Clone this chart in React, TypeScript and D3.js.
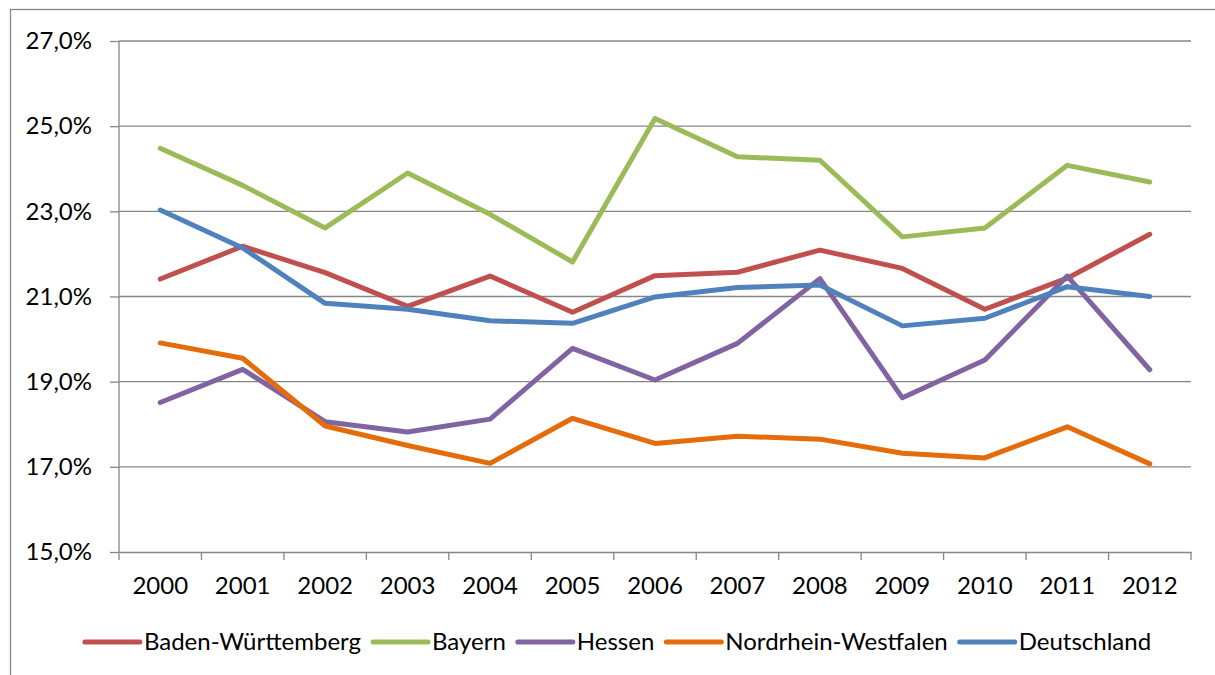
import React, {useEffect, useRef} from 'react'
import * as d3 from 'd3'

const years = ["2000", "2001", "2002", "2003", "2004", "2005", "2006", "2007", "2008", "2009", "2010", "2011", "2012"];

const badenWuerttemberg = [21.41, 22.18, 21.56, 20.77, 21.48, 20.63, 21.49, 21.57, 22.09, 21.66, 20.70, 21.43, 22.46];
const bayern = [24.48, 23.61, 22.61, 23.90, 22.93, 21.81, 25.18, 24.28, 24.20, 22.40, 22.61, 24.08, 23.69];
const hessen = [18.51, 19.29, 18.06, 17.82, 18.12, 19.78, 19.04, 19.90, 21.42, 18.62, 19.51, 21.48, 19.28];
const nordrheinWestfalen = [19.91, 19.55, 17.96, 17.50, 17.08, 18.14, 17.55, 17.72, 17.65, 17.32, 17.21, 17.94, 17.07];
const deutschland = [23.03, 22.14, 20.84, 20.70, 20.43, 20.37, 20.99, 21.21, 21.27, 20.31, 20.49, 21.23, 21.00];

const yTicks = [15, 17, 19, 21, 23, 25, 27];

const series = [
    {name: "Baden-Württemberg", color: "#c0504d", values: badenWuerttemberg},
    {name: "Bayern", color: "#9bbb59", values: bayern},
    {name: "Hessen", color: "#8064a2", values: hessen},
    {name: "Nordrhein-Westfalen", color: "#e46c0a", values: nordrheinWestfalen},
    {name: "Deutschland", color: "#4f81bd", values: deutschland},
];

const width = 1215;
const height = 675;
const margin = ({top: 41, right: 24, bottom: 123, left: 119});
const font = "Lato, 'Open Sans', sans-serif";
const fontSize = 24;
const axisColor = "#868686";

export default function App() {
    const ref = useRef<SVGSVGElement>(null);

    useEffect(() => {
        const svg = d3.select(ref.current);
        svg.selectAll("*").remove();

        const x = d3.scaleBand()
            .domain(years)
            .range([margin.left, width - margin.right]);

        const y = d3.scaleLinear()
            .domain([15, 27])
            .range([height - margin.bottom, margin.top]);

        // outer chart frame (runs off the picture at right and bottom)
        svg.append("rect")
            .attr("x", 10.5).attr("y", 9.5)
            .attr("width", 1300).attr("height", 700)
            .attr("fill", "none")
            .attr("stroke", axisColor)
            .attr("stroke-width", 1.3);

        // gridlines
        svg.append("g")
            .selectAll("line")
            .data(yTicks.filter(d => d !== 15))
            .join("line")
            .attr("x1", margin.left).attr("x2", width - margin.right)
            .attr("y1", d => y(d)).attr("y2", d => y(d))
            .attr("stroke", axisColor)
            .attr("stroke-width", 1.3);

        const yAxis = g => g
            .attr("transform", `translate(${margin.left},0)`)
            .call(d3.axisLeft(y).tickValues(yTicks).tickSize(9).tickPadding(18)
                .tickFormat(d => d3.format(".1f")(d).replace(".", ",") + "%"))
            .call(g => g.selectAll("line, path").attr("stroke", axisColor).attr("stroke-width", 1.3))
            .call(g => g.select(".domain").attr("d", `M0,${y(15)}V${y(27)}`))
            .call(g => g.selectAll("text")
                .attr("fill", "#000")
                .attr("font-family", font)
                .attr("font-size", fontSize));

        const xAxis = g => g
            .attr("transform", `translate(0,${height - margin.bottom})`)
            .call(d3.axisBottom(x).tickSize(0).tickPadding(25))
            .call(g => g.select(".domain").attr("stroke", axisColor).attr("stroke-width", 1.3))
            .call(g => g.selectAll("text")
                .attr("fill", "#000")
                .attr("font-family", font)
                .attr("font-size", fontSize));

        svg.append("g").call(xAxis);

        // tick marks between categories
        const edges = years.map(d => x(d)).concat([x.range()[1]]);
        svg.append("g")
            .selectAll("line")
            .data(edges)
            .join("line")
            .attr("x1", d => d).attr("x2", d => d)
            .attr("y1", y(15)).attr("y2", y(15) + 8)
            .attr("stroke", axisColor)
            .attr("stroke-width", 1.3);

        svg.append("g").call(yAxis);

        const line = d3.line<number>()
            .x((d, i) => x(years[i]) + x.bandwidth() / 2)
            .y(d => y(d));

        svg.append("g")
            .attr("fill", "none")
            .attr("stroke-width", 5)
            .attr("stroke-linejoin", "round")
            .attr("stroke-linecap", "round")
            .selectAll("path")
            .data(series)
            .join("path")
            .attr("stroke", d => d.color)
            .attr("d", d => line(d.values));

        // legend
        const legend = svg.append("g").attr("transform", `translate(0,642)`);
        const items = legend.selectAll("g")
            .data(series)
            .join("g");
        items.append("line")
            .attr("x1", 0).attr("x2", 55)
            .attr("stroke", d => d.color)
            .attr("stroke-width", 5)
            .attr("stroke-linecap", "round");
        items.append("text")
            .attr("x", 59)
            .attr("dy", "0.35em")
            .attr("font-family", font)
            .attr("font-size", fontSize)
            .attr("fill", "#000")
            .text(d => d.name);

        const widths = [];
        items.select("text").each(function () {
            widths.push(59 + (this as SVGTextElement).getComputedTextLength());
        });
        const gap = 12;
        const total = d3.sum(widths) + gap * (widths.length - 1);
        let pos = 618 - total / 2;
        items.attr("transform", (d, i) => {
            const t = `translate(${pos},0)`;
            pos += widths[i] + gap;
            return t;
        });
    }, []);

    return <svg ref={ref} width={width} height={height}
                style={{position: "absolute", left: 0, top: 0, background: "#fff"}}/>;
}
